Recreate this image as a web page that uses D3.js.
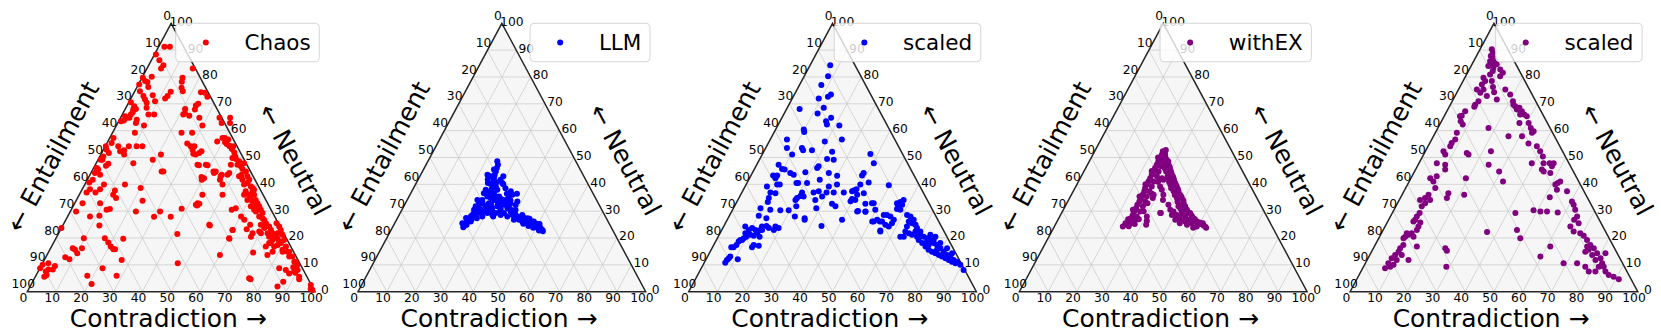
<!DOCTYPE html>
<html>
<head>
<meta charset="utf-8">
<script src="https://cdn.jsdelivr.net/npm/d3@7"></script>
<style>
body { margin: 0; background: #fff; }
svg { display: block; font-family: "DejaVu Sans", sans-serif; }
</style>
</head>
<body>
<div id="chart"></div>
<script>

// each point is [contradiction, neutral]; entailment = 100 - contradiction - neutral
var chaosPts = [
[2,91.3],[3.9,91.3],[0.5,88.4],[2.8,86.2],[5.1,84.4],[4.9,83.2],[15.9,83.2],[14.1,79.7],[14.6,78.2],[15.6,76],[16.7,74.7],[0.3,79.7],[1.7,78.5],[3.2,80.1],[0.3,77.2],[2.7,78.1],[3.9,76.3],[1.8,74.7],[3.9,72.9],[5.1,71.6],[7,73.2],[8.9,71],[6.3,70.4],[11.9,72],[12.3,72.9],[12.6,74.5],[23.2,74.3],[24.7,74.1],[26.3,72.6],[0.7,70.6],[2.6,69.1],[2.9,67.9],[3.2,66.9],[3,66],[3.1,64.8],[3.7,68.1],[2.1,64.8],[1.7,63.8],[0.8,63.5],[1.3,65.4],[7.2,68.5],[11.1,66],[9.1,66],[20.8,68.1],[23.9,69.4],[24.4,70],[24.3,67.9],[21.2,66],[21.5,66.6],[23.5,65.6],[6,64.1],[6.3,62.9],[9.6,61.9],[7.8,59.2],[24,59.2],[27.7,59.2],[27.4,64.8],[29.9,61.9],[34.4,64.8],[36.1,62.9],[39,62.9],[38.1,64.8],
[1.3,57.3],[1.6,55.4],[4.5,54.2],[6.1,52.3],[8.1,51.1],[8.2,54.2],[10.9,54.2],[12.9,54.2],[7.3,52.7],[28,55.2],[29.7,54.2],[31,54.2],[32,51.4],[33.9,51.7],[34.4,52.3],[38,56],[40,57.3],[41.5,56.7],[43.3,54.2],[44.5,54.2],[41.8,55],[0.2,54.2],[1.1,52.9],[2.5,51.7],[1.2,50.4],[0.9,49.2],[1.5,49.2],[12.9,47.9],[19,49.2],[20.9,51.1],[24.9,44.8],[24.3,44.8],[36.1,47.1],[39.1,47.1],[39.2,42.7],[42.3,44.8],[45.8,43.6],[46.1,41.7],[39.8,41.7],[1.1,46.1],[1.9,45.5],[1.4,44.2],[1.9,41.7],[1.2,40.7],[3.5,43.6],[4.3,47.7],[3.9,46.9],[6.7,39.9],[6.2,38.2],[5.2,37],[2.1,37],[2.7,38.2],[11.6,37.7],[11.8,36.1],[13.4,34.9],[14,39.9],[20.1,38.6],[23.1,33.9],[22.8,29.9],[30.1,27.9],[31.2,29.9],[35.9,27.9],[38.2,30.9],[43.4,32.8],[43,32.1],[2.7,33],[2,29.9],[7.8,28],[10.9,28.3],[8.8,33],[12.3,30.5],[13.3,30.8],[12.7,24.7],[0,23.7],[17,19.9],[19,18.3],[20.6,16.8],[22,15.8],[22.6,15.8],[23.5,19.7],[26.9,11.8],[28.1,5.9],[21.8,8.7],[17.9,5.9],[20.9,2.9],[9.7,19.9],[10.9,16.2],[10.2,14.3],[8.8,15.6],[7.7,16.2],[8.6,12.1],[6.8,12.8],[4.8,9.6],[4.7,8.3],[3.2,8.3],[2.7,7.5],[3.1,5.6],[3.6,6.2],[0.3,10],[0.1,8.7],[2,10.6],[47,10.6],[41.4,21.5],[60.1,13.7],[51.1,24.7],[59.9,23],[64.6,23.3],[65,24.9],[75.3,4.6],[60.4,19.7],
[39.2,57.3],[40.9,55.7],[43,54.4],[44.5,53.2],[46,51.9],[47.1,50.4],[47.8,49.4],[49.3,48.6],[49.4,47.3],[50.9,46.7],[51.9,45.7],[51.4,47.9],[53.6,44.8],[55,43],[56.3,41.7],[52.7,43.6],[52.1,43],[53.9,41.7],[55.4,39.9],[56.3,40.5],[58.1,39.2],[59.6,37.4],[60.8,36.1],[62.3,34.2],[63.5,33],[64.7,31.8],[65.9,30.5],[67.1,29.3],[62.6,32.4],[61.5,33.6],[59.9,35.5],[64.5,29.9],[66.6,28],[68.9,26.8],[70.2,25.5],[71.9,24.3],[73.2,23],[74.3,21.8],[75.6,20.5],[73.9,25.5],[75.4,24.3],[76.1,21.8],[76.6,23],[78.1,21.2],[75.6,19.3],[75,18.1],[74.5,16.8],[76.6,13.7],[77.4,16.8],[78.3,17.4],[79.1,18.1],[79.6,19.3],[81.5,16.8],[83,14.9],[80.9,15.6],[84.5,13.1],[87.2,11.2],[88.7,9.3],[89.9,8.1],[89,7.5],[91.7,5.6],[87.6,6.8],[85.8,8.1],[83.2,8.7],[75.6,18.1],[67.5,20.5],[67.4,21.8],[69.4,22.4],[70.3,21.8],[59.8,23],[60.2,19.9],[62,26.8],[60.3,28],[56.9,31.1],[55.8,30.5],[49.8,36.1],[50.8,24.9],[42.4,32.4],[42.7,33],[42.8,36.1],[40.3,42.3],[35.5,47.3],[33,51.1],[31,52.9],[38.4,47.3],[42.8,44.2],[43.1,44.8],[45.7,43],[47.9,39.9],[47.8,43.6],[48.1,44.2],[47.1,47.3],[46.4,49.8],[74.6,5],[86,1.9],[97.3,2.5],[98,1],
[59,36.1],[59.4,34.2],[61.8,31.8],[63.6,30.5],[64.8,30.5],[68,27.4],[68.7,24.9],[70.5,23.7],[72.6,21.8],[73.8,20.5],[77,19.9],[78.2,18.7],[59,38.6],[59.8,38],[57.2,37.4],[57.3,36.1],
[87.1,3.7],[98.8,0.6],[92.2,4.6],[89.6,7.1],[87.9,9.1],[88.9,10],[71.2,14.6],[77.8,14.9],[81.3,14.9],[83.6,14.9],[85.6,13.1],[87.7,11.2]
];

var llmPts = [
[24.1,48.6],[25,47.3],[25.2,46.1],[25.5,44.8],[25.7,43.6],[25.9,42.3],[26.7,41.1],[26.7,39.9],[28.3,39.2],[27.3,38.2],[29.4,38],[28.9,36.7],[28.7,41.7],[29.9,40.5],[31.3,35.5],[23.2,43.6],[24.9,40.5],[25.8,40.2],[25.4,38],
[25.4,36.7],[27.2,35.5],[28.7,34.9],[30.2,34.2],[31.6,33.6],[33.1,33],[34.6,32.4],[29,33],[26.1,34.2],[25.6,33],[28.5,31.8],[31.1,31.1],[32.5,31.8],[33.2,29.3],[34.3,30.5],[34.2,34.2],[34.4,37.4],[35.6,36.1],[34.7,35.5],[38.6,33.6],[38.6,32.4],[36.4,31.1],[38.1,29.9],[36.1,29.3],
[24.4,34.2],[25,31.8],[25.1,30.5],[26.5,31.1],[25.4,28.6],[25.2,28],[25.2,26.8],[24.9,26.2],[24.7,25.5],[24.6,24.5],[24.6,24],[25.3,24.9],[26,26.8],[26.6,28],[26.8,29.3],[28,29.3],[28.9,29.9],[30.3,29.3],[29.2,28],[25.7,29.3],[27.6,27.4],
[37.9,28],[39.4,28.6],[41.4,28],[42.9,27.4],[44.3,26.8],[45.8,26.2],[47.3,25.5],[48.7,24.9],[50.2,24.3],[51.6,23.7],[52.6,23],[51.3,23.3],[49.8,24],[48.4,24.5],[46.8,25.3],[45.4,25.8],[44,26.2],[42.6,26.8],[41.1,27.4],[42.8,28.6],[45.2,27.4],[40.8,26.8],
[24.6,43],[26.4,36.7],[35.3,28.6],[32.4,28.6],[26.1,26.2],[47.5,26.2],[49.5,25.3],
[27,37],[28,36],[30,35.5],[31,34.8],[32.5,34.5],[33,32.2],[30,32.5],[29.5,31],[27.5,30.5],[26.5,30],[31.5,30.2],[34,31],[35.5,33],[36.5,32.8],[37.5,30.8],[39.5,30.5],[40,29.2],[33.5,36.5],[32,38.5],[30.5,40],[27.8,40.8],[26,42.5],[24.5,45.5],[24.2,41.8],[29,43],[36,34],[37,36.5],[33,28],[34.5,29.5],[27,32.8],[23.8,27.5],[23.5,25.5],
[43.5,27.8],[46,27.2],[48,26.2],[50.5,25.2],[44.8,25.3],[47,24.5],[49,23.8],[51.5,22.8],[53,22.5]
];

var llmScaledPts = [
[7,84.4],[8.3,80.3],[7.6,77],[12.7,73.5],[12.1,72.6],[9.2,72],[12.7,68.5],[4.5,68.1],[11.6,66.4],[17.1,64.8],[16,63.5],[16.9,62.3],[21.4,61.9],[9.8,60.4],[10.4,59.5],[24.9,56.7],[19.3,56],[5.8,56.7],[7.4,53.5],[12.6,53.5],[13.4,52.7],[16.5,52.7],[10.4,51.1],[23.8,52.1],[25.8,49.2],[23.4,49.4],[37.5,51.3],[40.4,47.9],
[7.6,47.3],[9.6,45.7],[9.1,43.3],[7.7,43.3],[9,42.3],[10.6,45.5],[13.2,44.2],[14.7,43.6],[17.2,40.5],[17.8,40.5],[18.3,44.5],[21.6,46.1],[21.8,46.7],[26.6,44.2],[30,43.2],[24.7,41.7],[20.9,40.5],[20.9,37],[24.9,37],[26.5,37.4],[28.6,35.5],[29.4,37],[29.1,39.2],[35.4,37],[31.6,39.9],[38.5,37.7],[39.2,38.2],[39.7,39.9],[38.6,43.3],[42.2,40.7],[38.7,44.2],[49.7,39.7],
[7.6,39.2],[9.9,37],[10.4,34.9],[11.8,36.7],[10.8,39.9],[11.7,39.9],[10.8,33.4],[9.4,31.1],[10.2,28.3],[13.3,27.4],[13.1,30.5],[16.7,30.3],[19.6,30.3],[21.5,31.8],[20,34.2],[20.2,34.9],[22.2,35.5],[21,35.7],[28.8,31.1],[26.9,34.2],[26.6,27.4],[22.9,28],[26.9,26.8],[33.9,24.5],[31.9,37],[33.4,32.8],[35.1,31.8],[39.9,26.8],[39.5,34.5],[39.4,33.7],[43.8,30.1],[45,32.8],[47.8,33],[46.5,29.8],[50.7,26.2],[55.2,22.8],[53.3,26.2],[56.9,33.4],[57.6,34.2],[56.5,32.4],[57,30.8],
[7.5,24.3],[9.4,23],[10.2,23.7],[11.7,23],[10.8,21.2],[9.8,20.5],[9.2,19.9],[8.3,19.3],[8,18.7],[7.9,17.4],[7.3,16.6],[6.5,16.6],[7.4,11.8],[7.3,10.8],[7.7,12.5],[7.9,13.1],[11,12.1],[8.9,19.3],[12.2,20.8],[14.4,20.5],[15.8,17.1],[13.7,16.6],[13.9,17.4],[13.4,23],[13.3,24.3],[14,23],[16,23.7],[18.1,23],[18,24.3],[19.4,23.7],[14.8,24.5],[12.9,21.8],[8.8,21.8],
[38.1,37.4],[40.5,36.1],[42.5,36.7],[40.8,34.2],[43.6,29.9],[46.5,29.9],[47.2,33],[49.6,30.5],[51.2,26.2],[52.1,26.8],[54.1,26.2],[55.4,22.4],[53.5,28.6],[54.6,28.6],[56.1,28],[57.9,26.8],[55.9,24.9],[57.4,24.3],[57.9,25.5],[55.9,33],[58,32.4],[58.3,30.5],[61.6,28.6],[63.1,28],[64.8,26.8],[63.4,26.2],[64.9,25.5],[63.7,24.3],[66.4,24.9],[67.5,23.7],[64.1,22.4],[63.3,20.5],[64.5,20.5],[65.6,21.8],[67,21.2],[69.1,20.5],[69.9,21.2],[71.4,20.5],[72.9,19.9],[74.4,19.3],[76.1,18.1],[77.6,17.4],[79.4,16.2],[81.2,14.9],[83,13.7],[84.4,13.1],[86.2,11.8],[87.7,11.2],[89.4,10],[91.5,8.1],[73.4,21.2],[75.5,20.5],[70.3,19.3],[72.1,18.1],[73.9,16.8],[75.6,15.6],[77.1,14.9],[78.6,14.3],[80.1,13.7],[81.5,13.1],[83,12.5],[84.5,11.8],[85.9,11.2],[87.4,10.6],[78.5,15.6],[73.5,18.7],[75.5,19.3],[78.4,18.1],[81.7,16.2],[84.4,14.3],[69.3,22.4],[67.6,22.4],[74.7,17.4]
];

var withExPts = [
[23.7,52.3],[24,51.1],[24,49.8],[24,48.6],[24.1,47.3],[24.1,46.1],[24.2,44.8],[24.2,43.6],[24.3,42.3],[24.3,41.1],[24.3,39.9],[24.4,38.6],[24.7,37.4],[24.8,36.1],[24.8,34.9],[24.9,33.6],[24.8,32.4],[25,31.1],[24.9,29.9],[25.1,28.6],[25,27.4],[24.8,26.2],[24.9,24.9],
[25.5,50.4],[25.8,48.6],[25.8,46.7],[26,44.8],[26.3,43],[26.1,41.1],[26.4,39.2],[26.5,37.4],[26.5,35.5],[26.9,33.6],[27,31.8],[27,29.9],[26.8,28],[26.8,26.8],[26.3,25.5],
[25.1,51.1],[26.6,49.2],[28.2,47.3],[29.7,45.5],[31.2,43.6],[32.4,42.3],[33.9,40.5],[35.1,39.2],[36.6,37.4],[37.8,36.1],[39,34.9],[40.6,33],[41.7,31.8],[43,30.5],[44.7,29.3],[46,28],[46.8,27.4],[48.6,26.2],[50.3,25.2],[51.7,24.7],[52.4,24.3],
[26.4,47.3],[28.6,44.8],[30.7,42.3],[32.5,39.9],[34.9,37.4],[37.3,34.9],[39.5,32.4],[41.5,29.9],[43.6,28],[45.4,26.8],[47.2,25.5],[49.5,24.3],[44.5,26.2],[45.8,24.9],
[28.4,42.3],[29.2,41.7],[29.3,39.2],[30.5,38],[28.6,36.1],[28.9,34.9],[32,36.1],[32.8,34.2],[35.6,32.4],[37.2,30.5],[38.6,29.9],[40.4,28.6],[38.7,28.6],[42.5,26.8],[34.3,29.3],[30.3,28],[31.6,24.9],[31.1,26.4],[40.8,26.8],[39.4,31.8],[34.5,29.3],
[23.2,50],[23.5,45],[23.8,40],[24,35.5],[24.2,30.5],[24.3,27],[24.1,25.5],[23.8,24.3],
[27.5,46],[27.7,41],[27.8,36.5],[28,33],[28.2,30],[28,27],[27.5,25.2],[25.8,24.4],
[27.5,48.5],[29,46.5],[30.5,44.5],[32,42.8],[33,41.5],[34.5,39.8],[36,38.2],[38.5,35.5],[40,34],[42,31],[44,29.5],[45.5,28.5],[47.5,27],[49.8,25.8],[51,25.5],[53,23.8],[48.5,23.8],[43,25.5],[41.5,28],
[30,43],[31.5,41],[33.5,38.5],[36,36],[38.2,33.5],[40.5,31],[42.5,28.8],
[24.5,52.8],[24.8,51.5],[25.3,49.8]
];

var withExScaledPts = [
[4.1,90.3],[5.1,89],[5,87.8],[6.2,87.2],[5.7,85.9],[7.5,85.9],[6.9,84.7],[8.6,84.7],[6,84.1],[8.1,83.4],[10.8,82.8],[8.5,82.2],[8.2,80.9],[12.3,81.6],[12,80.3],[6.5,79.7],[7.7,78.5],[10,78.5],[11.5,76.3],[12.9,74.3],[7.2,77.2],[6.4,75.3],[8.2,74.1],[8.7,75.3],[15.2,71.6],[11.1,72.9],[9.1,71],[8.6,69.7],[8.7,68.9],[6.4,67.2],[6,65.6],[6.7,63.5],[8,62.3],
[16.3,75.3],[18.9,73.5],[21.1,71],[22.8,69.1],[24,67.9],[24.6,68.5],[26.1,67.2],[27.5,66],[28.7,65.4],[27.4,62.9],[21.9,69.7],[26.1,66],[30.6,62.9],[32.3,61],[33.6,59.2],[33.9,59.8],[30.8,57.9],[34.4,55.2],[37.8,54.2],[39.9,52.3],[41.8,50.4],[43.3,47.9],[45.4,47.9],[46.8,47.9],[46.8,46.7],[47.5,44.2],[43.9,45.5],[44.9,44.8],[39.2,47.9],[51.9,40.5],[51.4,39.9],[52.5,41.1],[52.9,38],[56.7,37.4],[51.8,35.2],[60.3,33.6],[61.5,32.4],[63,30.5],[64.9,28],[64.5,26.8],[66.7,25.5],[51.2,29.9],[48.6,30.3],[57.4,29.5],[53.5,29.9],
[64.4,24.3],[66.5,22.4],[69.1,21.8],[70.8,20.8],[72.7,19.3],[74.8,17.4],[76.6,16.2],[78.7,14.3],[80.8,12.5],[82.3,10.6],[74,16.8],[75.1,15.6],[74.3,14.9],[77.3,13.7],[79.4,11.8],[61.2,16.8],[59.6,13.1],[68.9,10.6],[73.6,10.6],[77.1,9.3],[79.2,7.5],[81.5,7.5],[85,7.5],[86.8,6.2],[88.8,5.6],[91.1,4.6],[81.6,14.3],[81.8,9.3],[83.5,9.3],
[17.6,61],[26.1,57.9],[22.8,52.3],[24.5,47.3],[29.4,44.8],[32.6,41.1],[19.1,42.3],[21.6,36.1],[42.8,29.3],[46.5,23],[49.2,19.9],[36.5,22.2],[25,16.2],[26,15.3],[28.8,9.3],[15.6,51.1],[14.7,51.7],
[5.5,65.4],[7.5,59.2],[8.2,56.7],[7.6,55.4],[7.7,54.2],[6.3,52.3],[7.5,51.1],[6.2,47.9],[9.4,47.3],[10.3,45.5],[8.6,43],[6.7,42.3],[8.4,41.1],[10.3,38.6],[9.2,36.1],[8.6,34.9],[7.2,34.2],[9,31.8],[9.5,29.3],[9.2,28],[9.2,26.8],[8.9,26.2],[11.5,25.8],[11.6,24.3],[8.8,21.8],[8.9,20.5],[8.6,19.9],[9.7,21.2],[10.5,21.8],[11.7,23],[9.8,17.4],[9.3,16.2],[9.4,14.9],[8.8,13.7],[8.2,12.5],[8,10.6],[7.8,8.7],[9.3,9.3],[10.1,10],[10.3,11.8],[11.1,13.7],[14.4,11.8],[14.8,16.8],[11.8,20.5],[15.8,36.7],[16.2,34.9],[10.7,34.2],[9.6,33]
];

var panelNames = ["Chaos", "LLM", "scaled", "withEX", "scaled"];
var panelColors = ["#ff0000", "#0000ff", "#0000ff", "#800080", "#800080"];
var panelData = [chaosPts, llmPts, llmScaledPts, withExPts, withExScaledPts];
var tickValues = [0, 10, 20, 30, 40, 50, 60, 70, 80, 90, 100];
var gridValues = [10, 20, 30, 40, 50, 60, 70, 80, 90];

var width = 1661, height = 332;
var panelStep = 330.7, left0 = 27.3, triW = 287.7;
var yBottom = 291.7, yTop = 23.3;

var svg = d3.select("#chart").append("svg")
    .attr("width", width)
    .attr("height", height);

// size fonts so the text widths match the picture
function textWidth(str, size){
    var t = svg.append("text").attr("font-size", size).text(str);
    var w = t.node().getComputedTextLength();
    t.remove();
    return w;
}
var tickFont = 12 * 23.5 / textWidth("100", 12);
var labelFont = 22 * 197 / textWidth("Contradiction \u2192", 22);
var sideFont = 22 * 166.5 / textWidth("\u2190 Entailment", 22);
var legendFont = 143.6 / (3.6 + textWidth("Chaos", 20) / 20);

panelData.forEach(function(pts, i){
    var x0 = left0 + panelStep * i;
    // x scale takes contradiction + neutral/2, y scale takes neutral
    var xs = d3.scaleLinear().domain([0, 100]).range([x0, x0 + triW]);
    var ys = d3.scaleLinear().domain([0, 100]).range([yBottom, yTop]);
    function px(c, n){ return xs(c + n / 2); }
    function py(c, n){ return ys(n); }

    var g = svg.append("g");

    var corners = [[0, 0], [100, 0], [0, 100]];
    var tri = d3.line().x(function(d){ return px(d[0], d[1]); })
                       .y(function(d){ return py(d[0], d[1]); });
    g.append("path")
        .attr("d", tri(corners) + "Z")
        .attr("fill", "#f6f6f6")
        .attr("stroke", "none");

    var segs = [];
    gridValues.forEach(function(k){
        segs.push([[0, k], [100 - k, k]]);       // neutral = k
        segs.push([[k, 0], [k, 100 - k]]);       // contradiction = k
        segs.push([[100 - k, 0], [0, 100 - k]]); // entailment = k
    });
    g.selectAll("line.grid")
        .data(segs)
        .enter().append("line")
        .attr("class", "grid")
        .attr("x1", function(d){ return px(d[0][0], d[0][1]); })
        .attr("y1", function(d){ return py(d[0][0], d[0][1]); })
        .attr("x2", function(d){ return px(d[1][0], d[1][1]); })
        .attr("y2", function(d){ return py(d[1][0], d[1][1]); })
        .attr("stroke", "#cdcdcd")
        .attr("stroke-width", 0.8);

    g.append("path")
        .attr("d", tri(corners) + "Z")
        .attr("fill", "none")
        .attr("stroke", "#262626")
        .attr("stroke-width", 1.5);

    // bottom ticks: contradiction
    g.selectAll("text.tb")
        .data(tickValues)
        .enter().append("text")
        .attr("class", "tb")
        .attr("x", function(d){ return px(d, 0) - 3.8; })
        .attr("y", function(d){ return py(d, 0) + 5.8; })
        .attr("dy", "0.36em")
        .attr("text-anchor", "middle")
        .attr("font-size", tickFont)
        .text(function(d){ return d; });

    // left ticks: entailment
    g.selectAll("text.tl")
        .data(tickValues)
        .enter().append("text")
        .attr("class", "tl")
        .attr("x", function(d){ return px(0, 100 - d) - 4; })
        .attr("y", function(d){ return py(0, 100 - d) - 7.8; })
        .attr("dy", "0.36em")
        .attr("text-anchor", "middle")
        .attr("font-size", tickFont)
        .text(function(d){ return d; });

    // right ticks: neutral
    g.selectAll("text.tr")
        .data(tickValues)
        .enter().append("text")
        .attr("class", "tr")
        .attr("x", function(d){ return px(100 - d, d) + 10; })
        .attr("y", function(d){ return py(100 - d, d) - 2; })
        .attr("dy", "0.36em")
        .attr("text-anchor", "middle")
        .attr("font-size", tickFont)
        .text(function(d){ return d; });

    g.selectAll("circle.pt")
        .data(pts)
        .enter().append("circle")
        .attr("class", "pt")
        .attr("cx", function(d){ return px(d[0], d[1]); })
        .attr("cy", function(d){ return py(d[0], d[1]); })
        .attr("r", 3)
        .attr("fill", panelColors[i]);

    // axis labels
    g.append("text")
        .attr("transform", "translate(" + (x0 + 25.2) + ",156.5) rotate(-61.7)")
        .attr("text-anchor", "middle")
        .attr("dy", "0.36em")
        .attr("font-size", sideFont)
        .text("\u2190 Entailment");
    g.append("text")
        .attr("transform", "translate(" + (x0 + 267.5) + ",159.5) rotate(61.7)")
        .attr("text-anchor", "middle")
        .attr("dy", "0.36em")
        .attr("font-size", sideFont)
        .text("\u2190 Neutral");
    g.append("text")
        .attr("x", x0 + 141)
        .attr("y", 327.3)
        .attr("text-anchor", "middle")
        .attr("font-size", labelFont)
        .text("Contradiction \u2192");

    // legend
    var f = legendFont;
    var right = x0 + 292;
    var boxH = 1.786 * f;
    var cy = 23.3 + boxH / 2;
    var lg = svg.append("g");
    var box = lg.append("rect");
    var txt = lg.append("text")
        .attr("x", right - 0.4 * f)
        .attr("y", cy + 0.35 * f)
        .attr("text-anchor", "end")
        .attr("font-size", f)
        .text(panelNames[i]);
    var tw = txt.node().getComputedTextLength();
    var left = right - 0.4 * f - tw - 0.8 * f - 2 * f - 0.4 * f;
    box.attr("x", left)
        .attr("y", 23.3)
        .attr("width", right - left)
        .attr("height", boxH)
        .attr("rx", 4)
        .attr("fill", "#fff")
        .attr("fill-opacity", 0.8)
        .attr("stroke", "#cccccc")
        .attr("stroke-opacity", 0.8)
        .attr("stroke-width", 1);
    lg.append("circle")
        .attr("cx", left + 0.4 * f + f)
        .attr("cy", cy)
        .attr("r", 3)
        .attr("fill", panelColors[i]);
});

</script>
</body>
</html>
